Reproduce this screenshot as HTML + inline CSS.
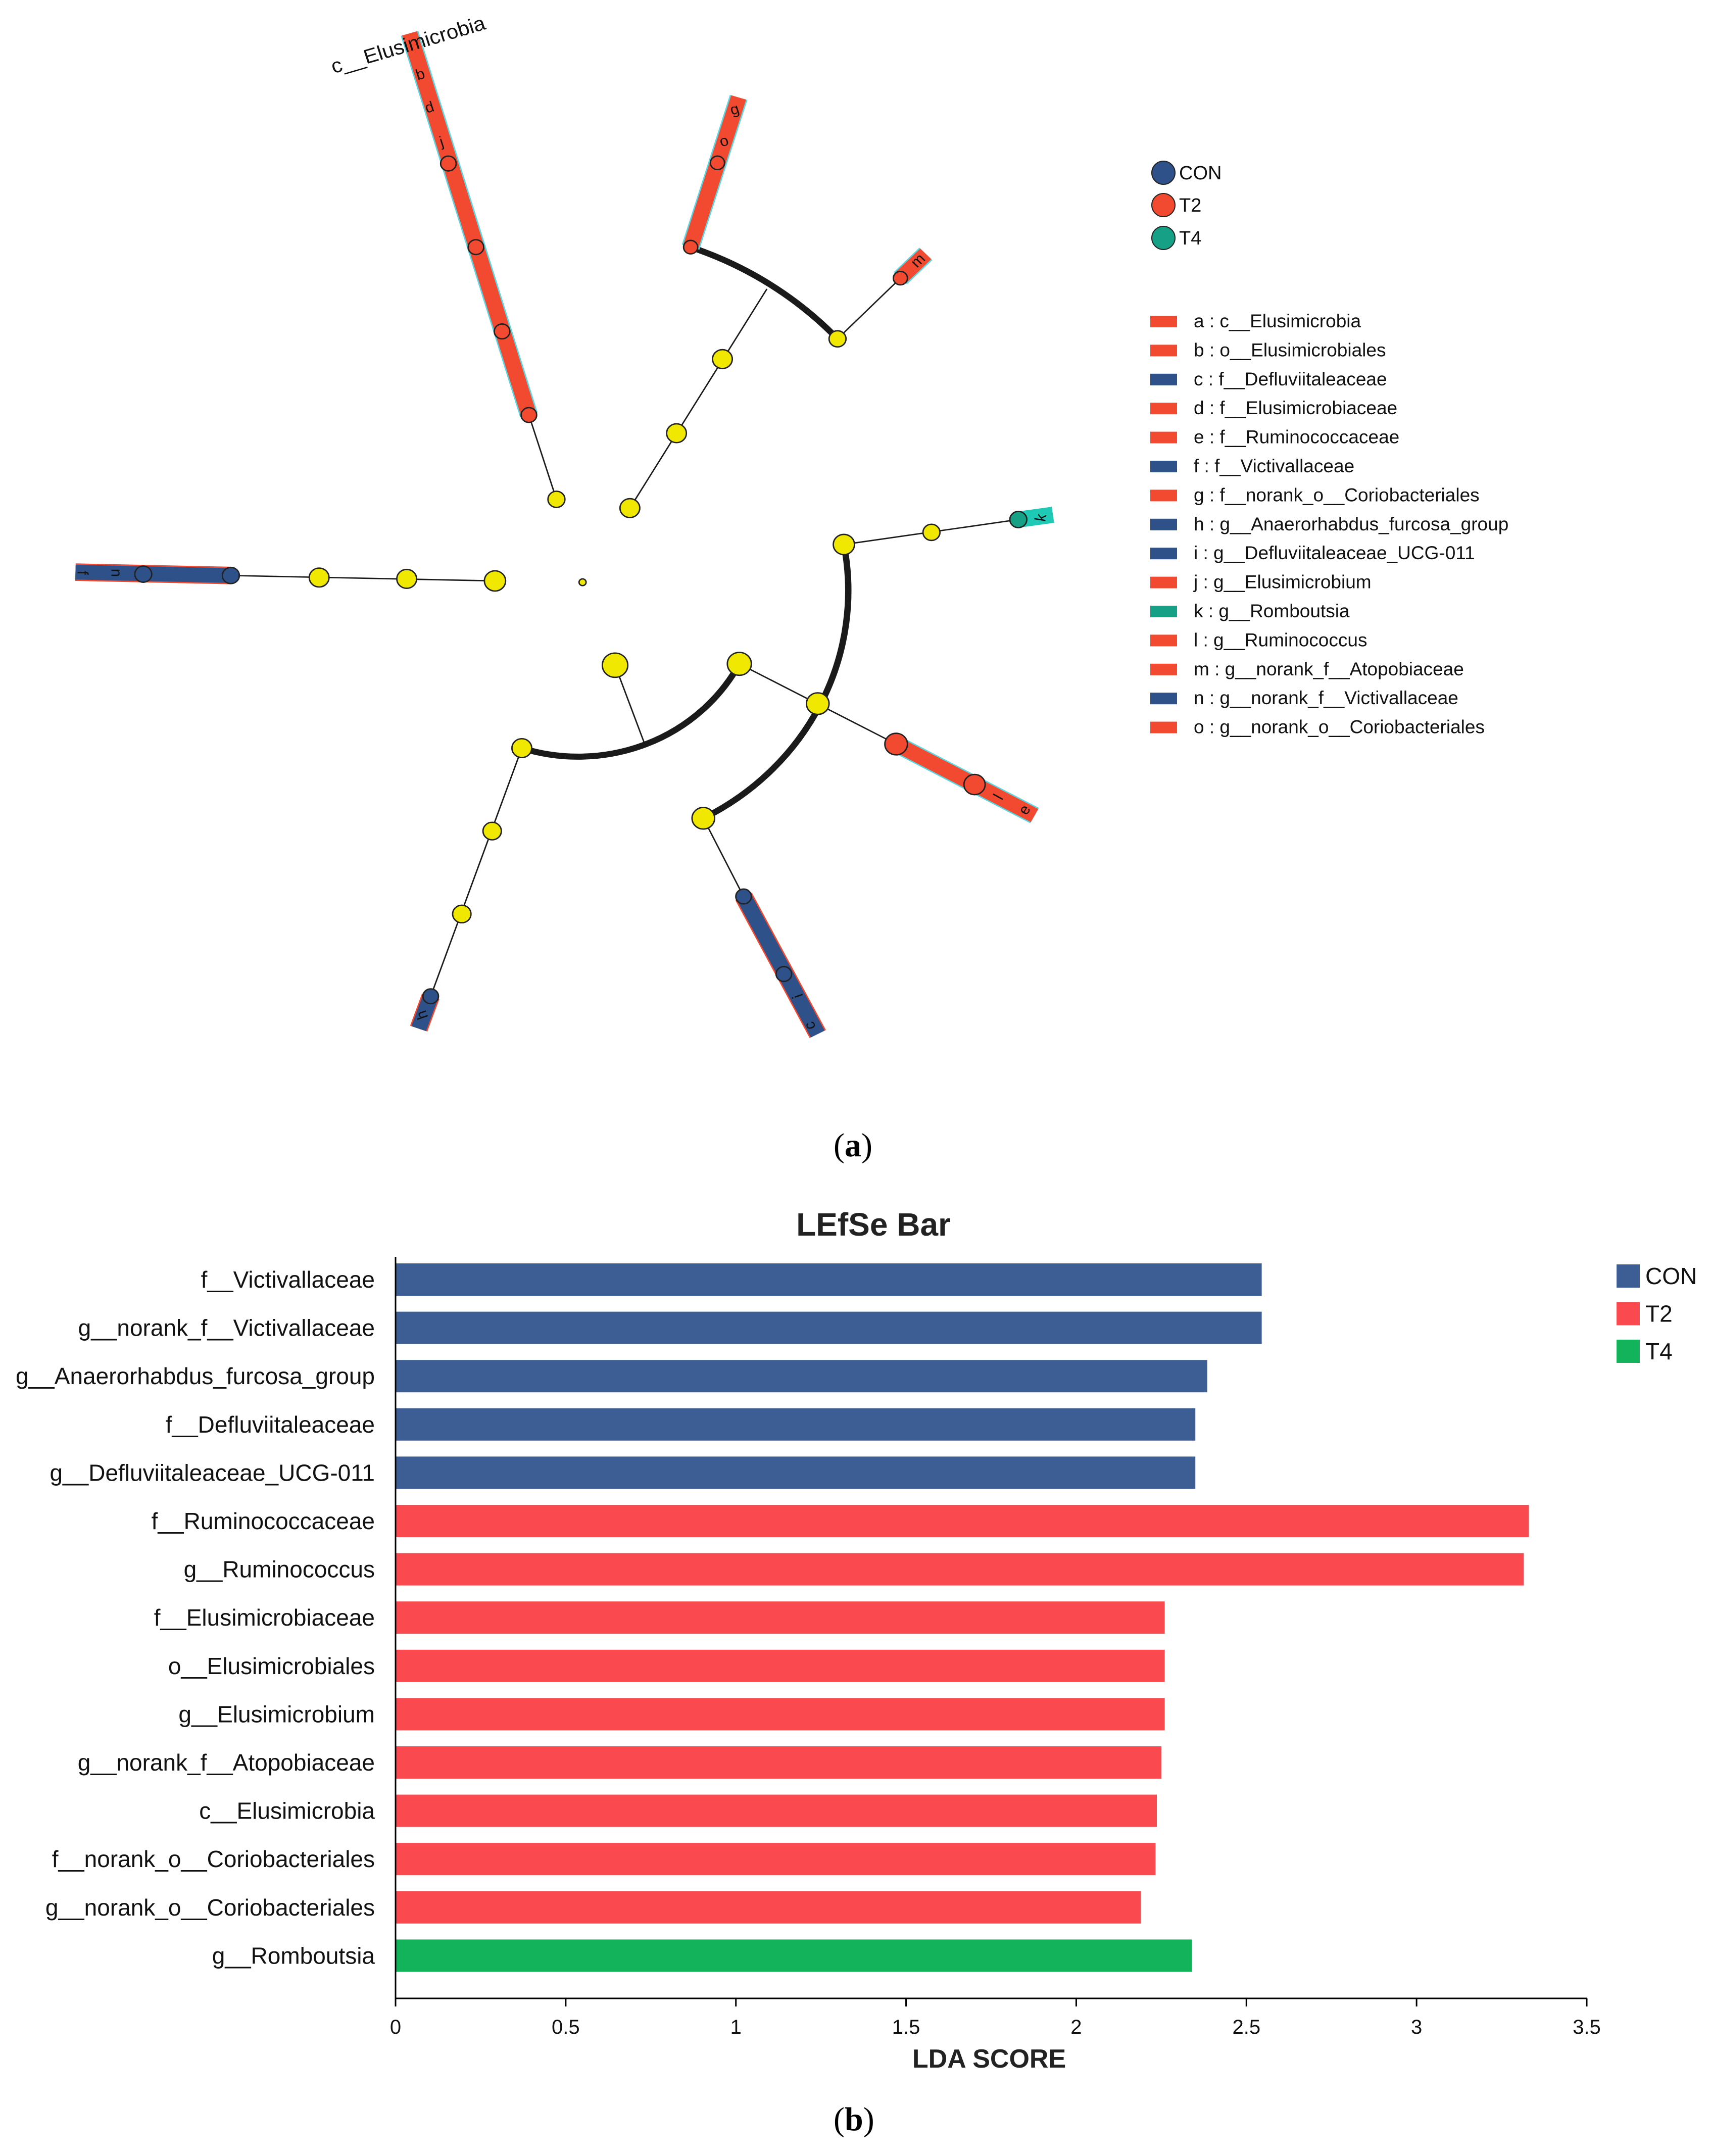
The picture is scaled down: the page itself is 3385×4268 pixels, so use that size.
<!DOCTYPE html>
<html><head><meta charset="utf-8"><style>
html,body{margin:0;padding:0;background:#fff;}
body{width:3385px;height:4268px;position:relative;overflow:hidden;font-family:"Liberation Sans",sans-serif;}
svg{position:absolute;left:0;top:0;}
</style></head><body>
<svg width="2167" height="2069" viewBox="0 0 1550 1550" preserveAspectRatio="none" style="left:4px;top:2px">
 <g fill="none" stroke="#1a1a1a">
  <path d="M975,365 A515,515 0 0 1 1183,501" stroke-width="9"/>
  <path d="M1192,806 A380,380 0 0 1 993,1212" stroke-width="9"/>
  <path d="M736,1108 A258,258 0 0 0 1044,983" stroke-width="9"/>
  <g stroke-width="2">
   <line x1="785" y1="739" x2="746" y2="614"/>
   <line x1="889" y1="752" x2="1083" y2="427"/>
   <line x1="1183" y1="501" x2="1272" y2="411"/>
   <line x1="698" y1="860" x2="324" y2="852"/>
   <line x1="1192" y1="806" x2="1439" y2="769"/>
   <line x1="1044" y1="983" x2="1266" y2="1102"/>
   <line x1="868" y1="985" x2="910" y2="1102"/>
   <line x1="993" y1="1212" x2="1050" y2="1328"/>
   <line x1="736" y1="1108" x2="607" y2="1476"/>
  </g>
 </g>
 <g stroke-linecap="butt">
  <line x1="746" y1="614" x2="577" y2="48" stroke="#5cd6e0" stroke-width="26"/>
  <line x1="746" y1="614" x2="577" y2="48" stroke="#f24a30" stroke-width="22"/>
  <line x1="975" y1="365" x2="1043" y2="143" stroke="#5cd6e0" stroke-width="26"/>
  <line x1="975" y1="365" x2="1043" y2="143" stroke="#f24a30" stroke-width="22"/>
  <line x1="1272" y1="411" x2="1308" y2="375" stroke="#5cd6e0" stroke-width="26"/>
  <line x1="1272" y1="411" x2="1308" y2="375" stroke="#f24a30" stroke-width="22"/>
  <line x1="324" y1="852" x2="104" y2="847" stroke="#f24a30" stroke-width="26"/>
  <line x1="324" y1="852" x2="104" y2="847" stroke="#2f5189" stroke-width="22"/>
  <line x1="1266" y1="1102" x2="1462" y2="1208" stroke="#5cd6e0" stroke-width="26"/>
  <line x1="1266" y1="1102" x2="1462" y2="1208" stroke="#f24a30" stroke-width="22"/>
  <line x1="1439" y1="769" x2="1488" y2="762" stroke="#1ec9b5" stroke-width="24"/>
  <line x1="1050" y1="1328" x2="1155" y2="1532" stroke="#f24a30" stroke-width="26"/>
  <line x1="1050" y1="1328" x2="1155" y2="1532" stroke="#2f5189" stroke-width="22"/>
  <line x1="607" y1="1476" x2="590" y2="1524" stroke="#f24a30" stroke-width="26"/>
  <line x1="607" y1="1476" x2="590" y2="1524" stroke="#2f5189" stroke-width="22"/>
 </g>
 <g stroke="#222" stroke-width="2">
  <circle cx="822" cy="862" r="5" fill="#f0e800"/>
  <circle cx="785" cy="739" r="12" fill="#f0e800"/>
  <circle cx="746" cy="614" r="11" fill="#f24a30"/>
  <circle cx="708" cy="490" r="11" fill="#f24a30"/>
  <circle cx="671" cy="365" r="11" fill="#f24a30"/>
  <circle cx="632" cy="241" r="11" fill="#f24a30"/>
  <circle cx="889" cy="752" r="14" fill="#f0e800"/>
  <circle cx="955" cy="641" r="14" fill="#f0e800"/>
  <circle cx="1020" cy="531" r="14" fill="#f0e800"/>
  <circle cx="975" cy="365" r="10" fill="#f24a30"/>
  <circle cx="1013" cy="240" r="10" fill="#f24a30"/>
  <circle cx="1183" cy="501" r="12" fill="#f0e800"/>
  <circle cx="1272" cy="411" r="10" fill="#f24a30"/>
  <circle cx="698" cy="860" r="15" fill="#f0e800"/>
  <circle cx="573" cy="857" r="14" fill="#f0e800"/>
  <circle cx="449" cy="855" r="14" fill="#f0e800"/>
  <circle cx="324" cy="852" r="12" fill="#2f5189"/>
  <circle cx="200" cy="850" r="12" fill="#2f5189"/>
  <circle cx="1192" cy="806" r="15" fill="#f0e800"/>
  <circle cx="1316" cy="788" r="12" fill="#f0e800"/>
  <circle cx="1439" cy="769" r="12" fill="#16a085"/>
  <circle cx="1155" cy="1042" r="16" fill="#f0e800"/>
  <circle cx="1044" cy="983" r="17" fill="#f0e800"/>
  <circle cx="868" cy="985" r="18" fill="#f0e800"/>
  <circle cx="1266" cy="1102" r="16" fill="#f24a30"/>
  <circle cx="1377" cy="1162" r="15" fill="#f24a30"/>
  <circle cx="993" cy="1212" r="16" fill="#f0e800"/>
  <circle cx="1050" cy="1328" r="11" fill="#2f5189"/>
  <circle cx="1107" cy="1443" r="11" fill="#2f5189"/>
  <circle cx="736" cy="1108" r="14" fill="#f0e800"/>
  <circle cx="694" cy="1231" r="13" fill="#f0e800"/>
  <circle cx="651" cy="1354" r="13" fill="#f0e800"/>
  <circle cx="607" cy="1476" r="11" fill="#2f5189"/>
 </g>
 <g font-family="Liberation Sans, sans-serif" font-size="22" fill="#111" text-anchor="middle">
  <text x="592" y="116" transform="rotate(-17 592 108)">b</text>
  <text x="605" y="165" transform="rotate(-17 605 157)">d</text>
  <text x="622" y="216" transform="rotate(-17 622 208)">j</text>
  <text x="1022" y="215" transform="rotate(-17 1022 207)">o</text>
  <text x="1037" y="168" transform="rotate(-17 1037 160)">g</text>
  <text x="1297" y="392" transform="rotate(-45 1297 385)">m</text>
  <text x="163" y="856" transform="rotate(90 163 848)">n</text>
  <text x="115" y="856" transform="rotate(90 115 848)">f</text>
  <text x="1410" y="1188" transform="rotate(-60 1410 1180)">l</text>
  <text x="1447" y="1207" transform="rotate(-60 1447 1199)">e</text>
  <text x="1470" y="774" transform="rotate(-80 1470 766)">k</text>
  <text x="1126" y="1484" transform="rotate(-110 1126 1476)">i</text>
  <text x="1143" y="1528" transform="rotate(-110 1143 1520)">c</text>
  <text x="594" y="1512" transform="rotate(-110 594 1504)">h</text>
  <text x="575" y="75" font-size="30" transform="rotate(-17 575 65)">c__Elusimicrobia</text>
 </g>
</svg>

<svg width="3385" height="1500" style="left:0;top:0" font-family="Liberation Sans, sans-serif">
 <g stroke="#222" stroke-width="2">
  <circle cx="2303" cy="342" r="23" fill="#2f5189"/>
  <circle cx="2303" cy="406" r="23" fill="#f24a30"/>
  <circle cx="2303" cy="471" r="23" fill="#16a085"/>
 </g>
 <g font-size="38" fill="#111">
  <text x="2334" y="355">CON</text><text x="2334" y="419">T2</text><text x="2334" y="484">T4</text>
 </g>
 <g id="taxa" font-size="37" fill="#111"></g>
</svg>

<div style="position:absolute;left:1650px;top:2230px;font-family:'Liberation Serif',serif;font-size:66px;">(<b>a</b>)</div>
<div style="position:absolute;left:1650px;top:4158px;font-family:'Liberation Serif',serif;font-size:66px;">(<b>b</b>)</div>

<svg id="bar" width="3385" height="4268" style="left:0;top:0" font-family="Liberation Sans, sans-serif"></svg>

<script>
const taxaLabels=["a : c__Elusimicrobia","b : o__Elusimicrobiales","c : f__Defluviitaleaceae","d : f__Elusimicrobiaceae","e : f__Ruminococcaceae","f : f__Victivallaceae","g : f__norank_o__Coriobacteriales","h : g__Anaerorhabdus_furcosa_group","i : g__Defluviitaleaceae_UCG-011","j : g__Elusimicrobium","k : g__Romboutsia","l : g__Ruminococcus","m : g__norank_f__Atopobiaceae","n : g__norank_f__Victivallaceae","o : g__norank_o__Coriobacteriales"];
const taxaGroups=["T2","T2","CON","T2","T2","CON","T2","CON","CON","T2","T4","T2","T2","CON","T2"];
const cladeColor={CON:"#2f5189",T2:"#f24a30",T4:"#16a085"};
const NS="http://www.w3.org/2000/svg";
const tg=document.getElementById('taxa');
taxaLabels.forEach((t,i)=>{
  const y=636+i*57.4;
  const r=document.createElementNS(NS,'rect');
  r.setAttribute('x',2277);r.setAttribute('y',y-11);r.setAttribute('width',53);r.setAttribute('height',23);
  r.setAttribute('fill',cladeColor[taxaGroups[i]]);
  
  
  tg.appendChild(r);
  const tx=document.createElementNS(NS,'text');
  tx.setAttribute('x',2363);tx.setAttribute('y',y+12);tx.textContent=t;
  
  
  tg.appendChild(tx);
});

const categories=["f__Victivallaceae","g__norank_f__Victivallaceae","g__Anaerorhabdus_furcosa_group","f__Defluviitaleaceae","g__Defluviitaleaceae_UCG-011","f__Ruminococcaceae","g__Ruminococcus","f__Elusimicrobiaceae","o__Elusimicrobiales","g__Elusimicrobium","g__norank_f__Atopobiaceae","c__Elusimicrobia","f__norank_o__Coriobacteriales","g__norank_o__Coriobacteriales","g__Romboutsia"];
const ldaValues=[2.545,2.545,2.385,2.35,2.35,3.33,3.315,2.26,2.26,2.26,2.25,2.237,2.233,2.19,2.34];
const groups=["CON","CON","CON","CON","CON","T2","T2","T2","T2","T2","T2","T2","T2","T2","T4"];
const xTicks=[0,0.5,1,1.5,2,2.5,3,3.5];
const xTickLabels=["0","0.5","1","1.5","2","2.5","3","3.5"];
const legendGroups=["CON","T2","T4"];
const barColor={CON:"#3d5e94",T2:"#fa4a4f",T4:"#12b35a"};

const svg=document.getElementById('bar');
const X0=783,X1=3141,Ytop=2488,Ybot=3956,Y0=2533,STEP=95.6,BH=64;
const xs=v=>X0+(v-0)/(3.5-0)*(X1-X0);
const ys=i=>Y0+i*STEP;
function el(tag,attrs,text){const e=document.createElementNS(NS,tag);for(const k in attrs)e.setAttribute(k,attrs[k]);if(text!==undefined)e.textContent=text;svg.appendChild(e);return e;}

let t=el('text',{x:1729,y:2446,'font-size':64,'font-weight':'bold','text-anchor':'middle',fill:'#222'},'LEfSe Bar');



categories.forEach((c,i)=>{
  const b=el('rect',{x:xs(0),y:ys(i)-BH/2,width:xs(ldaValues[i])-xs(0),height:BH,fill:barColor[groups[i]]});
  
  
  const l=el('text',{x:742,y:ys(i)+16,'font-size':46,'text-anchor':'end',fill:'#111'},c);
  
  
});

let a=el('line',{x1:X0,y1:Ytop,x2:X0,y2:Ybot,stroke:'#000','stroke-width':3});


a=el('line',{x1:X0,y1:Ybot,x2:X1,y2:Ybot,stroke:'#000','stroke-width':3});


xTicks.forEach((v,i)=>{
  const tk=el('line',{x1:xs(v),y1:Ybot,x2:xs(v),y2:Ybot+16,stroke:'#000','stroke-width':3});
  
  
  const tl=el('text',{x:xs(v),y:4026,'font-size':40,'text-anchor':'middle',fill:'#111'},xTickLabels[i]);
  
  
});
t=el('text',{x:1958,y:4093,'font-size':52,'font-weight':'bold','text-anchor':'middle',fill:'#222'},'LDA SCORE');



legendGroups.forEach((g,i)=>{
  const y=2526+i*74.5;
  const r=el('rect',{x:3200,y:y-23,width:46,height:46,fill:barColor[g]});
  
  
  const lt=el('text',{x:3257,y:y+16,'font-size':46,fill:'#111'},g);
  
  
});
</script>
</body></html>
